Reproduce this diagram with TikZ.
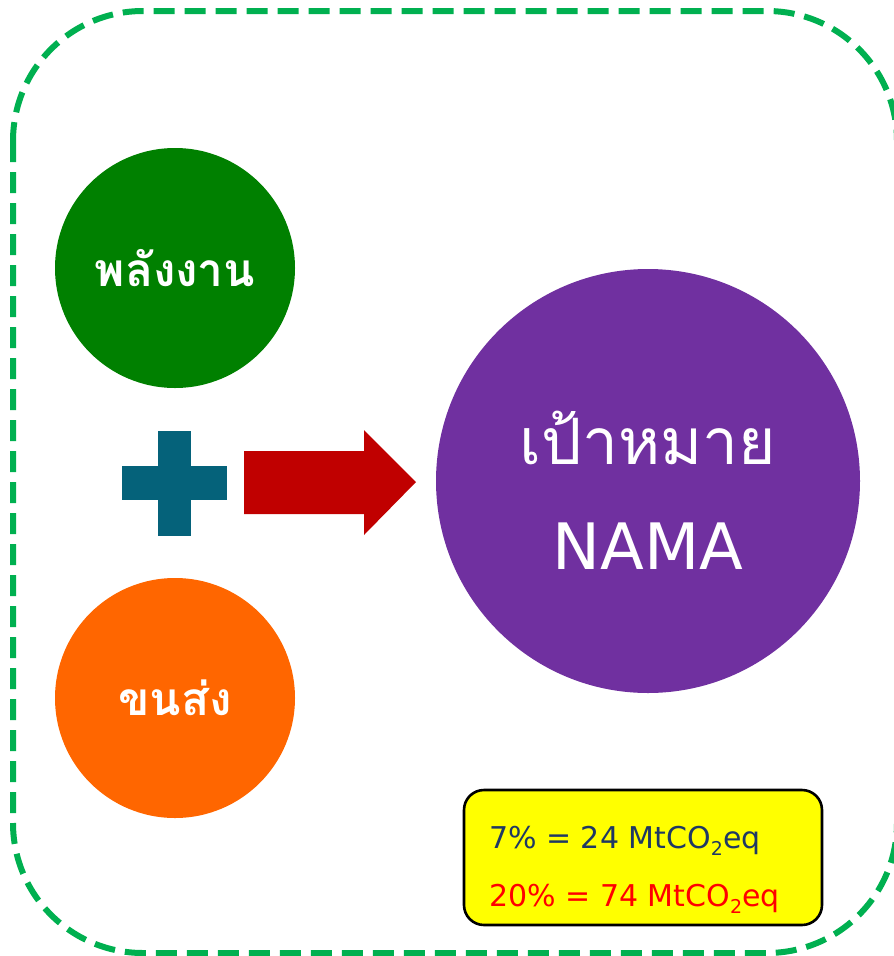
\documentclass[tikz,border=0pt]{standalone}
\usepackage{fontspec}
\setmainfont{DejaVu Sans}
\newfontfamily\thaifont[Script=Thai]{Loma}
\definecolor{bordergreen}{HTML}{00B050}
\definecolor{cgreen}{HTML}{008000}
\definecolor{corange}{HTML}{FF6600}
\definecolor{cpurple}{HTML}{7030A0}
\definecolor{cplus}{HTML}{05627A}
\definecolor{carrow}{HTML}{C00000}
\definecolor{cnavy}{HTML}{1F3864}
\definecolor{cyellow}{HTML}{FFFF00}
\tikzset{
  topic/.style={circle, minimum size=240pt, inner sep=0pt, text=white},
  statline/.style={anchor=west, inner sep=0pt, font=\fontsize{30}{34}\selectfont},
}
\begin{document}
\begin{tikzpicture}[x=1pt,y=-1pt]
\useasboundingbox (0,0) rectangle (894,956);
\clip (0,0) rectangle (894,956);
\draw[bordergreen, line width=6pt, dash pattern=on 21pt off 10pt, rounded corners=130pt]
  (13,11) rectangle (897,953);
\node[topic, fill=cgreen] (energy) at (175,268)
  {\thaifont\bfseries\fontsize{46}{50}\selectfont พลังงาน};
\node[topic, fill=corange] (transport) at (175,698)
  {\thaifont\bfseries\fontsize{46}{50}\selectfont ขนส่ง};
\node[circle, minimum size=424pt, inner sep=0pt, fill=cpurple] (target) at (648,481) {};
\node[text=white, inner sep=0pt, font=\thaifont\fontsize{64}{70}\selectfont] (targetth) at (648,438) {เป้าหมาย};
\node[text=white, inner sep=0pt, font=\fontsize{64}{70}\selectfont] (targeten) at (648,546) {NAMA};
\fill[cplus] (158,431) rectangle (191,536);
\fill[cplus] (122,466) rectangle (227,500);
\fill[carrow] (244,451) -- (364,451) -- (364,430) -- (416,482) -- (364,535) -- (364,514) -- (244,514) -- cycle;
\node[draw=black, line width=2.6pt, fill=cyellow, rounded corners=20pt, minimum width=358pt, minimum height=135pt] (stats) at (643,857.5) {};
\node[statline, text=cnavy] (line1) at (489,841) {7\% = 24 MtCO\raisebox{-0.4ex}{\fontsize{19}{20}\selectfont 2}eq};
\node[statline, text=red] (line2) at (489,899) {20\% = 74 MtCO\raisebox{-0.4ex}{\fontsize{19}{20}\selectfont 2}eq};
\end{tikzpicture}
\end{document}
